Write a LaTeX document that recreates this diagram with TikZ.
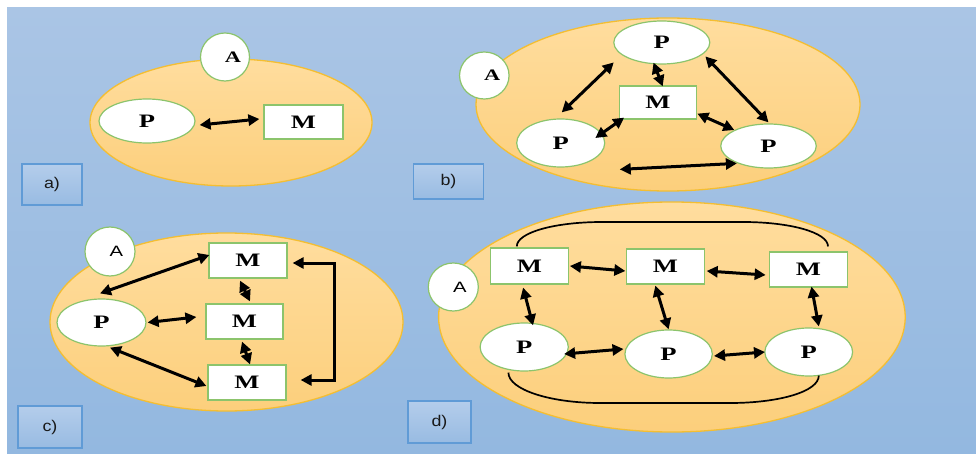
\documentclass[tikz,border=0pt]{standalone}
\usepackage{fontspec}
\usetikzlibrary{shapes.geometric,arrows.meta}
\newfontfamily\serifwide[FakeStretch=1.4]{Liberation Serif}
\newfontfamily\sanswide[FakeStretch=1.35]{Liberation Sans}
\newfontfamily\tagsans[FakeStretch=1.15]{Liberation Sans}

\definecolor{bgtop}{RGB}{170,197,229}
\definecolor{bgbot}{RGB}{147,184,224}
\definecolor{orbtop}{RGB}{255,221,158}
\definecolor{orbbot}{RGB}{252,207,124}
\definecolor{orbline}{RGB}{244,190,50}
\definecolor{leaf}{RGB}{140,196,108}
\definecolor{tagline}{RGB}{96,155,214}
\definecolor{tagtop}{RGB}{180,205,235}
\definecolor{tagbot}{RGB}{152,187,226}

\begin{document}
\begin{tikzpicture}[x=1pt,y=-1pt,
  orb/.style={ellipse, draw=orbline, line width=1.3pt, top color=orbtop, bottom color=orbbot, inner sep=0pt},
  pnode/.style={ellipse, draw=leaf, line width=1.2pt, fill=white, inner sep=0pt,
    font=\serifwide\bfseries\fontsize{19pt}{19pt}\selectfont},
  mnode/.style={rectangle, draw=leaf, line width=1.2pt, fill=white, inner sep=0pt,
    font=\serifwide\bfseries\fontsize{19pt}{19pt}\selectfont},
  anode/.style={ellipse, draw=leaf, line width=1.2pt, fill=white, inner sep=0pt},
  aserif/.style={font=\serifwide\bfseries\fontsize{16pt}{16pt}\selectfont, xshift=8pt},
  asans/.style={font=\sanswide\fontsize{15pt}{15pt}\selectfont, xshift=6.5pt},
  tag/.style={rectangle, draw=tagline, line width=1.2pt, top color=tagtop, bottom color=tagbot,
    inner sep=0pt, text=black!90, font=\tagsans\fontsize{15.5pt}{15.5pt}\selectfont},
  link/.style={line width=3pt, {Triangle[length=11pt,width=11pt]}-{Triangle[length=11pt,width=11pt]}},
  loop/.style={line width=1.7pt}
]
\useasboundingbox (0,0) rectangle (976,454);
% backdrop
\fill[white] (0,0) rectangle (976,454);
\shade[top color=bgtop, bottom color=bgbot] (7,8) rectangle (976,454);

% ---------- a) ----------
\node[orb, minimum width=282pt, minimum height=127pt] (bigA) at (231,122.5) {};
\node[anode, minimum width=49pt, minimum height=48pt, label={[aserif]center:A}] (aA) at (225,57) {};
\node[pnode, minimum width=96pt, minimum height=44pt] (pa) at (147,121) {P};
\node[mnode, minimum width=79pt, minimum height=34pt] (ma) at (303.5,122) {M};
\draw[link] ([shift={(4pt,-4pt)}]pa.east) -- ([shift={(-4pt,3pt)}]ma.west);
\node[tag, minimum width=60pt, minimum height=41pt] (ta) at (52,184.5) {a)};

% ---------- b) ----------
\node[orb, minimum width=384pt, minimum height=173pt] (bigB) at (668,104.5) {};
\node[anode, minimum width=49.5pt, minimum height=47pt, label={[aserif]center:A}] (aB) at (484.3,75.5) {};
\node[pnode, minimum width=96pt, minimum height=43pt] (tp) at (661.8,42.5) {P};
\node[mnode, minimum width=77.5pt, minimum height=33pt] (mb) at (658,102.5) {M};
\node[pnode, minimum width=88pt, minimum height=48pt] (lp) at (560.7,143) {P};
\node[pnode, minimum width=95.5pt, minimum height=44pt] (rp) at (768.5,146) {P};
\draw[link] ([shift={(-13.7pt,-4.3pt)}]tp.south west) -- ([shift={(1pt,6pt)}]lp.north);
\draw[link] ([shift={(-8.3pt,2pt)}]tp.south) -- ([shift={(4.7pt,-1pt)}]mb.north);
\draw[link] ([shift={(5.5pt,2pt)}]mb.south west) -- ([shift={(-10pt,5pt)}]lp.east);
\draw[link] ([shift={(0pt,6pt)}]mb.south east) -- (rp.north west);
\draw[link] ([shift={(9.2pt,1.7pt)}]tp.south east) -- ([shift={(0pt,1pt)}]rp.north);
\draw[link] ([shift={(27.5pt,-9pt)}]lp.south east) -- ([shift={(2.6pt,-1.4pt)}]rp.south west);
\node[tag, minimum width=70pt, minimum height=35pt] (tb) at (448.5,181.5) {b)};

% ---------- c) ----------
\node[orb, minimum width=353pt, minimum height=178pt] (bigC) at (226.5,322) {};
\node[anode, minimum width=50pt, minimum height=49pt, label={[asans]center:A}] (aC) at (110,251.5) {};
\node[pnode, minimum width=89pt, minimum height=47pt] (pc) at (101.5,322.5) {P};
\node[mnode, minimum width=78pt, minimum height=35pt] (m1c) at (248,260.5) {M};
\node[mnode, minimum width=77pt, minimum height=35pt] (m2c) at (244.5,321.5) {M};
\node[mnode, minimum width=78pt, minimum height=35pt] (m3c) at (247,382.5) {M};
\draw[link] ([shift={(-1.5pt,5pt)}]pc.north) -- ([shift={(1pt,5.5pt)}]m1c.west);
\draw[link] ([shift={(-8pt,-2pt)}]m1c.south) -- ([shift={(5.5pt,2pt)}]m2c.north);
\draw[link] ([shift={(1pt,0pt)}]pc.east) -- ([shift={(-9pt,4.5pt)}]m2c.west);
\draw[link] ([shift={(-2.5pt,-2pt)}]m2c.south) -- ([shift={(3pt,0pt)}]m3c.north);
\draw[link] ([shift={(8.5pt,-1pt)}]pc.south) -- ([shift={(-1pt,-3.5pt)}]m3c.west);
\draw[link, line join=miter] ([shift={(5pt,-2.5pt)}]m1c.east) -| ([xshift=51pt]m2c.east)
  |- ([shift={(14pt,2.5pt)}]m3c.east);
\node[tag, minimum width=64pt, minimum height=42pt] (tc) at (50,427) {c)};

% ---------- d) ----------
\node[orb, minimum width=466.6pt, minimum height=230pt] (bigD) at (671.9,317) {};
\node[anode, minimum width=50pt, minimum height=48pt, label={[asans]center:A}] (aD) at (453.3,287) {};
\node[mnode, minimum width=77.6pt, minimum height=36pt] (m1d) at (529.5,266) {M};
\node[mnode, minimum width=77.5pt, minimum height=35pt] (m2d) at (665.5,266.5) {M};
\node[mnode, minimum width=78.3pt, minimum height=35pt] (m3d) at (808.4,269.5) {M};
\node[pnode, minimum width=88.2pt, minimum height=48pt] (p1d) at (524.2,347) {P};
\node[pnode, minimum width=87.4pt, minimum height=48pt] (p2d) at (668.6,354) {P};
\node[pnode, minimum width=87.8pt, minimum height=48pt] (p3d) at (808.7,352) {P};
\draw[link] ([shift={(1pt,0pt)}]m1d.east) -- ([shift={(-0.8pt,-4.5pt)}]m2d.west);
\draw[link] ([shift={(1.8pt,-4.5pt)}]m2d.east) -- ([shift={(-3pt,-5.5pt)}]m3d.west);
\draw[link] ([shift={(-6.4pt,-3pt)}]m1d.south) -- ([shift={(8.8pt,-3pt)}]p1d.north);
\draw[link] ([shift={(-10.2pt,-1pt)}]m2d.south) -- (p2d.north);
\draw[link] ([shift={(3.1pt,1pt)}]m3d.south) -- ([shift={(10.1pt,1pt)}]p3d.north);
\draw[link] ([shift={(-4.8pt,-7pt)}]p1d.east) -- ([shift={(-0.8pt,5pt)}]p2d.west);
\draw[link] ([shift={(1.1pt,-2pt)}]p2d.east) -- ([shift={(0.8pt,0pt)}]p3d.west);
% outer rings joining the first and last nodes of each row
\coordinate (dtopL) at (602,222);
\coordinate (dtopR) at (743,222);
\coordinate (dbotL) at (600,403);
\coordinate (dbotR) at (730,403);
\draw[loop] ([shift={(-12.7pt,1pt)}]m1d.north)
  to[out=90,in=180,out distance=14pt,in distance=47pt] (dtopL) -- (dtopR)
  to[out=0,in=90,out distance=47pt,in distance=14pt] ([shift={(19.6pt,5pt)}]m3d.north);
\draw[loop] ([shift={(-15.8pt,-1pt)}]p1d.south)
  to[out=-90,in=180,out distance=17pt,in distance=50pt] (dbotL) -- (dbotR)
  to[out=0,in=-90,out distance=49pt,in distance=16pt] ([shift={(10.1pt,1pt)}]p3d.south);
\node[tag, minimum width=63pt, minimum height=42pt] (td) at (439.5,422) {d)};
\end{tikzpicture}
\end{document}
